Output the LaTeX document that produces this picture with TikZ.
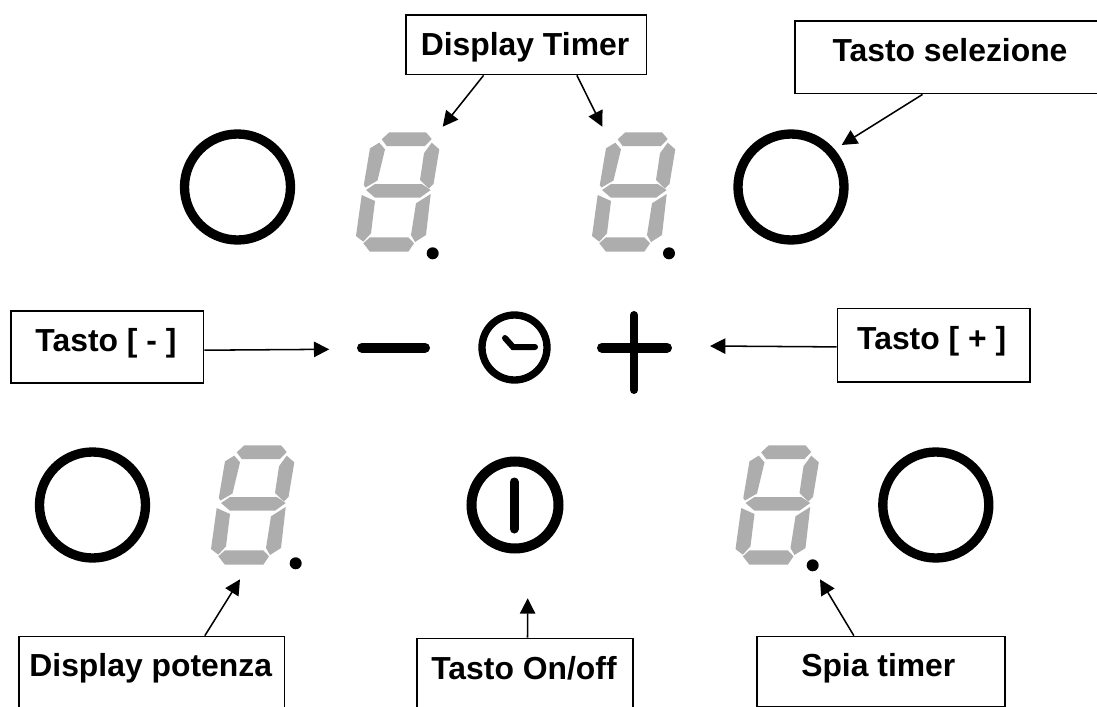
\documentclass[tikz,border=0pt]{standalone}
\usepackage{fontspec}
\setmainfont{Liberation Sans}
\usetikzlibrary{arrows.meta,calc}

\tikzset{every picture/.style={line width=0.75pt}}
\tikzset{
  keybox/.style={draw=black,line width=1.3pt,fill=white,inner sep=0pt,anchor=north west},
  keytext/.style={font=\fontsize{23.9}{28}\selectfont\bfseries,inner sep=0pt,anchor=base},
  pointer/.style={line width=1.15pt,-{Triangle[length=11.5pt,width=11.5pt]}},
  ring/.style={draw=black,line width=7pt},
  symbol/.style={line width=7.5pt,line cap=round},
  segment/.style={fill=black!32,draw=none},
  pics/segdigit/.style={code={
    \fill[segment] (41.7,19.3) -- (49.3,12.3) -- (86,12.3) -- (91.7,19) -- (85,26) -- (46.7,26) -- cycle;
    \fill[segment] (91.7,22.7) -- (99.3,29.3) -- (93.5,64) -- (88.8,68.5) -- (80,60) -- (84,33.3) -- cycle;
    \fill[segment] (39.3,22.7) -- (45,29.3) -- (37.5,60.5) -- (25.5,67.5) -- (23.8,65) -- (30,28.3) -- cycle;
    \fill[segment] (26,70) -- (35,64) -- (81.7,64) -- (90.7,70) -- (80,77.7) -- (35,77.7) -- cycle;
    \fill[segment] (21.7,75) -- (35,81) -- (31,113.3) -- (23.3,121.7) -- (16,116) -- cycle;
    \fill[segment] (90.7,74) -- (86,115) -- (75,122) -- (71,115) -- (76,83.3) -- cycle;
    \fill[segment] (23.3,123.3) -- (30,117.3) -- (68.3,117.3) -- (74,123.3) -- (68.3,131.7) -- (30,131.7) -- cycle;
  }}
}

\begin{document}
\begin{tikzpicture}[x=0.75pt,y=0.75pt,yscale=-1]
  \clip (0,0) rectangle (1097,707);
  \fill[white] (0,0) rectangle (1097,707);

  % rings
  \draw[ring] (237.5,187) circle (53);
  \draw[ring] (791,187) circle (53);
  \draw[ring] (92.5,505) circle (53);
  \draw[ring] (935.8,505) circle (53);

  % displays
  \pic[transform shape] at (340,120) {segdigit};
  \pic[transform shape] at (576,120) {segdigit};
  \pic[transform shape] at (195,433) {segdigit};
  \pic[transform shape] at (719.5,433) {segdigit};
  \fill (432.7,253.3) circle (6);
  \fill (669,253.3) circle (6);
  \fill (295.7,563.3) circle (6);
  \fill (812.7,565.3) circle (6);

  % minus, clock, plus
  \draw[symbol] (362,347.7) -- (425,347.7);
  \draw[line width=5.5pt] (514.5,347.5) circle (32.5);
  \draw[line width=4.5pt,line cap=round] (505,338) -- (513,347) -- (535,347);
  \draw[symbol] (602,347.7) -- (667,347.7);
  \draw[symbol,line width=6pt] (634,315) -- (634,390);

  % on/off
  \draw[line width=7.5pt] (515,505) circle (43.5);
  \draw[line width=6.75pt,line cap=round] (514,482) -- (514,529);

  % boxes
  \node[keybox,minimum width=180.5,minimum height=44.5] (boxtimer) at (405,14.3) {};
  \node[keybox,minimum width=232.5,minimum height=54.5] (boxsel) at (794,20) {};
  \node[keybox,minimum width=144.5,minimum height=54.2] (boxminus) at (10,310) {};
  \node[keybox,minimum width=144.5,minimum height=54.8] (boxplus) at (836.7,307.7) {};
  \node[keybox,minimum width=199,minimum height=60] (boxpot) at (18.3,635.7) {};
  \node[keybox,minimum width=162.2,minimum height=60] (boxonoff) at (416,637.7) {};
  \node[keybox,minimum width=186,minimum height=53] (boxspia) at (756,635.7) {};

  % labels
  \node[keytext] (labtimer) at (525,55) {Display Timer};
  \node[keytext] (labsel) at (950,61) {Tasto selezione};
  \node[keytext] (labminus) at (106,351.7) {Tasto [ - ]};
  \node[keytext] (labplus) at (931.7,349) {Tasto [ + ]};
  \node[keytext] (labpot) at (150.7,676.7) {Display potenza};
  \node[keytext] (labonoff) at (524,679) {Tasto On/off};
  \node[keytext] (labspia) at (878.3,676) {Spia timer};

  % arrows
  \coordinate (tiptimerl) at (442.7,126.7);
  \coordinate (tiptimerr) at (602.3,126.7);
  \coordinate (tipsel) at (841.7,145);
  \coordinate (tipminus) at (329.3,349.3);
  \coordinate (tipplus) at (710,346);
  \coordinate (tippot) at (240,579.3);
  \coordinate (tiponoff) at (527.7,598.3);
  \coordinate (tipspia) at (820,579.3);
  \draw[pointer] ($(boxtimer.south)+(-42.6,0)$) -- (tiptimerl);
  \draw[pointer] ($(boxtimer.south)+(50.7,0)$) -- (tiptimerr);
  \draw[pointer] ($(boxsel.south)+(-27.3,0)$) -- (tipsel);
  \draw[pointer] ($(boxminus.east)+(0,3.2)$) -- (tipminus);
  \draw[pointer] ($(boxplus.west)+(0,1.8)$) -- (tipplus);
  \draw[pointer] ($(boxpot.north)+(53,0)$) -- (tippot);
  \draw[pointer] ($(boxonoff.north)+(2.5,0)$) -- (tiponoff);
  \draw[pointer] ($(boxspia.north)+(-27,0)$) -- (tipspia);
\end{tikzpicture}
\end{document}
